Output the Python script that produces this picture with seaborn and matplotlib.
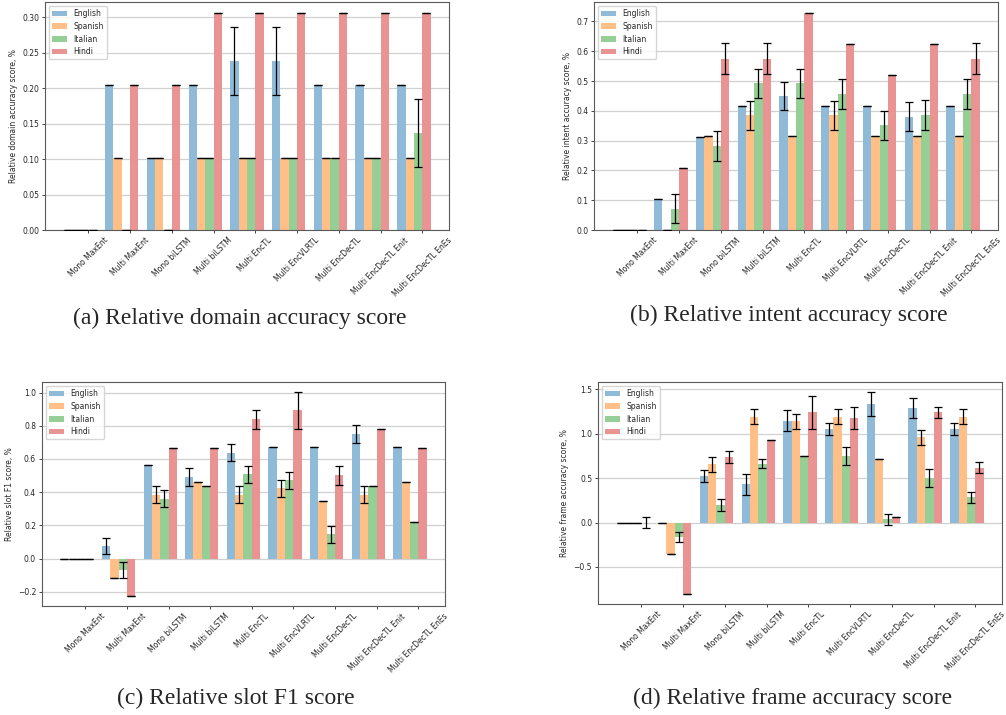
import numpy as np
import pandas as pd
import matplotlib
matplotlib.use("Agg")
import matplotlib.pyplot as plt
import seaborn as sns
from matplotlib.ticker import MultipleLocator

models = ["Mono MaxEnt", "Multi MaxEnt", "Mono biLSTM", "Multi biLSTM", "Multi EncTL",
          "Multi EncVLRTL", "Multi EncDecTL", "Multi EncDecTL Enit", "Multi EncDecTL EnEs"]
languages = ["English", "Spanish", "Italian", "Hindi"]
colors = ["#8fbbd9", "#ffbf86", "#95cf95", "#ea9393"]

# (a) domain accuracy
domain_score = {
    "English": [0, 0.204, 0.102, 0.204, 0.238, 0.238, 0.204, 0.204, 0.204],
    "Spanish": [0, 0.102, 0.102, 0.102, 0.102, 0.102, 0.102, 0.102, 0.102],
    "Italian": [0, 0, 0, 0.102, 0.102, 0.102, 0.102, 0.102, 0.137],
    "Hindi":   [0, 0.204, 0.204, 0.306, 0.306, 0.306, 0.306, 0.306, 0.306],
}
domain_err = {
    "English": [0, 0, 0, 0, 0.048, 0.048, 0, 0, 0],
    "Spanish": [0, 0, 0, 0, 0, 0, 0, 0, 0],
    "Italian": [0, 0, 0, 0, 0, 0, 0, 0, 0.048],
    "Hindi":   [0, 0, 0, 0, 0, 0, 0, 0, 0],
}

# (b) intent accuracy
intent_score = {
    "English": [0, 0.103, 0.312, 0.415, 0.450, 0.415, 0.415, 0.380, 0.415],
    "Spanish": [0, 0, 0.315, 0.385, 0.315, 0.385, 0.315, 0.315, 0.315],
    "Italian": [0, 0.072, 0.281, 0.492, 0.492, 0.457, 0.351, 0.387, 0.457],
    "Hindi":   [0, 0.208, 0.575, 0.575, 0.729, 0.625, 0.520, 0.625, 0.575],
}
intent_err = {
    "English": [0, 0, 0, 0, 0.048, 0, 0, 0.049, 0],
    "Spanish": [0, 0, 0, 0.049, 0, 0.049, 0, 0, 0],
    "Italian": [0, 0.049, 0.05, 0.05, 0.05, 0.05, 0.049, 0.05, 0.05],
    "Hindi":   [0, 0, 0.052, 0.052, 0, 0, 0, 0, 0.052],
}

# (c) slot F1
slot_score = {
    "English": [0, 0.076, 0.563, 0.489, 0.639, 0.675, 0.675, 0.751, 0.675],
    "Spanish": [0, -0.118, 0.385, 0.463, 0.385, 0.423, 0.347, 0.385, 0.463],
    "Italian": [0, -0.068, 0.361, 0.437, 0.509, 0.471, 0.148, 0.437, 0.218],
    "Hindi":   [0, -0.224, 0.669, 0.669, 0.838, 0.892, 0.501, 0.780, 0.669],
}
slot_err = {
    "English": [0, 0.051, 0, 0.054, 0.053, 0, 0, 0.054, 0],
    "Spanish": [0, 0, 0.053, 0, 0.053, 0.053, 0, 0.053, 0],
    "Italian": [0, 0.047, 0.051, 0, 0.051, 0.052, 0.051, 0, 0],
    "Hindi":   [0, 0, 0, 0, 0.056, 0.11, 0.055, 0, 0],
}

# (d) frame accuracy
frame_score = {
    "English": [0, 0, 0.526, 0.432, 1.147, 1.049, 1.338, 1.290, 1.049],
    "Spanish": [0, -0.353, 0.658, 1.195, 1.139, 1.195, 0.714, 0.959, 1.195],
    "Italian": [0, -0.167, 0.199, 0.665, 0.748, 0.748, 0.038, 0.500, 0.286],
    "Hindi":   [0, -0.805, 0.737, 0.929, 1.241, 1.177, 0.064, 1.241, 0.620],
}
frame_err = {
    "English": [0, 0, 0.07, 0.12, 0.12, 0.068, 0.132, 0.117, 0.068],
    "Spanish": [0, 0, 0.083, 0.083, 0.085, 0.083, 0, 0.083, 0.083],
    "Italian": [0, 0.055, 0.064, 0.055, 0, 0.1, 0.062, 0.102, 0.062],
    "Hindi":   [0.064, 0, 0.064, 0, 0.188, 0.126, 0, 0.066, 0.066],
}

panels = [
    (domain_score, domain_err, "Relative domain accuracy score, %", 0.05,
     "(a) Relative domain accuracy score", [0.0447, 0.6783, 0.4016, 0.3189], (0.2386, 0.5552)),
    (intent_score, intent_err, "Relative intent accuracy score, %", 0.1,
     "(b) Relative intent accuracy score", [0.5905, 0.6783, 0.4016, 0.3189], (0.7843, 0.5594)),
    (slot_score, slot_err, "Relative slot F1 score, %", 0.2,
     "(c) Relative slot F1 score", [0.0417, 0.1524, 0.4006, 0.3133], (0.2346, 0.0238)),
    (frame_score, frame_err, "Relative frame accuracy score, %", 0.5,
     "(d) Relative frame accuracy score", [0.5944, 0.1552, 0.4016, 0.3105], (0.7883, 0.0238)),
]

sns.set_style("ticks")
plt.rcParams["font.family"] = ["DejaVu Sans"]

fig = plt.figure(figsize=(10.06, 7.15), dpi=100)
fs = 5.5

for score, err, ylabel, step, caption, rect, cap_pos in panels:
    ax = fig.add_axes(rect)
    rows = []
    for lang in languages:
        for m, v in zip(models, score[lang]):
            rows.append({"model": m, "language": lang, "score": v})
    df = pd.DataFrame(rows)
    sns.barplot(data=df, x="model", y="score", hue="language", order=models,
                hue_order=languages, palette=colors, saturation=1, errorbar=None,
                linewidth=0, ax=ax, zorder=2)
    for cont, lang in zip(ax.containers, languages):
        xs = [p.get_x() + p.get_width() / 2 for p in cont.patches]
        ax.errorbar(xs, score[lang], yerr=err[lang], fmt="none", ecolor="black",
                    elinewidth=0.9, capsize=2.8, capthick=0.9, zorder=3)
    ax.set_xticks(np.arange(len(models)) + 0.2)
    ax.set_xticklabels(models, rotation=45, ha="center", fontsize=fs)
    ax.set_xlim(-0.84, len(models) - 1 + 0.84)
    ax.yaxis.set_major_locator(MultipleLocator(step))
    ax.tick_params(axis="both", labelsize=fs, length=2.2, width=0.6, pad=2)
    ax.set_xlabel("")
    ax.set_ylabel(ylabel, fontsize=fs, labelpad=3)
    ax.yaxis.grid(True, color="#d0d0d0", linewidth=0.9)
    ax.set_axisbelow(True)
    for s in ax.spines.values():
        s.set_color("0.35")
        s.set_linewidth(0.8)
    sns.move_legend(ax, "upper left", title=None, fontsize=fs, frameon=True)
    fig.text(cap_pos[0], cap_pos[1], caption, ha="center", va="center",
             fontsize=17, family="Liberation Serif")

fig.savefig("out.png", dpi=100)
